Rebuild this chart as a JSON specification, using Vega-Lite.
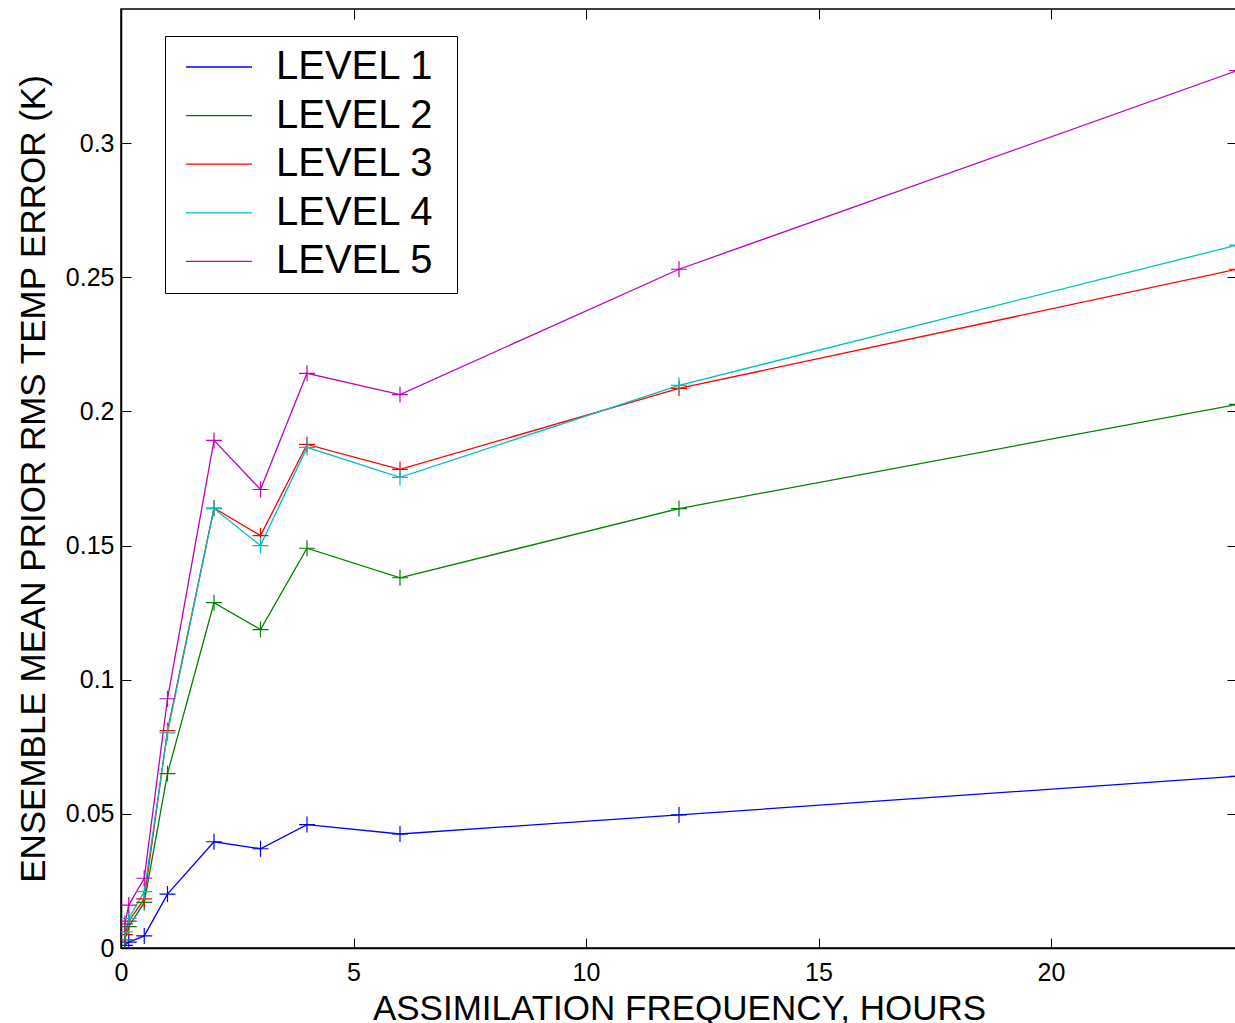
{
  "$schema": "https://vega.github.io/schema/vega-lite/v6.json",
  "width": 1116,
  "height": 939,
  "autosize": {"type": "none"},
  "padding": {"left": 121, "top": 9, "right": 0, "bottom": 75},
  "background": "white",
  "config": {
    "font": "Liberation Sans",
    "view": {"stroke": "black", "strokeWidth": 1.5},
    "axis": {
      "labelFont": "Liberation Sans",
      "titleFont": "Liberation Sans",
      "labelColor": "black",
      "titleColor": "black",
      "titleFontWeight": "normal",
      "grid": false,
      "domainColor": "black",
      "domainWidth": 1.5,
      "tickColor": "black",
      "tickWidth": 1
    }
  },
  "resolve": {"scale": {"x": "independent", "y": "independent"}},
  "data": {
    "values": [
      {"level": "LEVEL 1", "hours": 0.0833, "err": 0.001},
      {"level": "LEVEL 1", "hours": 0.1667, "err": 0.0022},
      {"level": "LEVEL 1", "hours": 0.5, "err": 0.0045},
      {"level": "LEVEL 1", "hours": 1, "err": 0.0201},
      {"level": "LEVEL 1", "hours": 2, "err": 0.0396},
      {"level": "LEVEL 1", "hours": 3, "err": 0.037},
      {"level": "LEVEL 1", "hours": 4, "err": 0.046},
      {"level": "LEVEL 1", "hours": 6, "err": 0.0425},
      {"level": "LEVEL 1", "hours": 12, "err": 0.0496},
      {"level": "LEVEL 1", "hours": 24, "err": 0.064},
      {"level": "LEVEL 2", "hours": 0.0833, "err": 0.003},
      {"level": "LEVEL 2", "hours": 0.1667, "err": 0.008},
      {"level": "LEVEL 2", "hours": 0.5, "err": 0.017},
      {"level": "LEVEL 2", "hours": 1, "err": 0.065},
      {"level": "LEVEL 2", "hours": 2, "err": 0.1287},
      {"level": "LEVEL 2", "hours": 3, "err": 0.1187},
      {"level": "LEVEL 2", "hours": 4, "err": 0.149},
      {"level": "LEVEL 2", "hours": 6, "err": 0.138},
      {"level": "LEVEL 2", "hours": 12, "err": 0.1638},
      {"level": "LEVEL 2", "hours": 24, "err": 0.2026},
      {"level": "LEVEL 3", "hours": 0.0833, "err": 0.005},
      {"level": "LEVEL 3", "hours": 0.1667, "err": 0.01},
      {"level": "LEVEL 3", "hours": 0.5, "err": 0.0183},
      {"level": "LEVEL 3", "hours": 1, "err": 0.081},
      {"level": "LEVEL 3", "hours": 2, "err": 0.164},
      {"level": "LEVEL 3", "hours": 3, "err": 0.1537},
      {"level": "LEVEL 3", "hours": 4, "err": 0.1877},
      {"level": "LEVEL 3", "hours": 6, "err": 0.1784},
      {"level": "LEVEL 3", "hours": 12, "err": 0.2086},
      {"level": "LEVEL 3", "hours": 24, "err": 0.253},
      {"level": "LEVEL 4", "hours": 0.0833, "err": 0.006},
      {"level": "LEVEL 4", "hours": 0.1667, "err": 0.011},
      {"level": "LEVEL 4", "hours": 0.5, "err": 0.021},
      {"level": "LEVEL 4", "hours": 1, "err": 0.0802},
      {"level": "LEVEL 4", "hours": 2, "err": 0.1638},
      {"level": "LEVEL 4", "hours": 3, "err": 0.15},
      {"level": "LEVEL 4", "hours": 4, "err": 0.1866},
      {"level": "LEVEL 4", "hours": 6, "err": 0.1754},
      {"level": "LEVEL 4", "hours": 12, "err": 0.2097},
      {"level": "LEVEL 4", "hours": 24, "err": 0.262},
      {"level": "LEVEL 5", "hours": 0.0833, "err": 0.009},
      {"level": "LEVEL 5", "hours": 0.1667, "err": 0.016},
      {"level": "LEVEL 5", "hours": 0.5, "err": 0.026},
      {"level": "LEVEL 5", "hours": 1, "err": 0.0929},
      {"level": "LEVEL 5", "hours": 2, "err": 0.1892},
      {"level": "LEVEL 5", "hours": 3, "err": 0.1709},
      {"level": "LEVEL 5", "hours": 4, "err": 0.2142},
      {"level": "LEVEL 5", "hours": 6, "err": 0.2063},
      {"level": "LEVEL 5", "hours": 12, "err": 0.253},
      {"level": "LEVEL 5", "hours": 24, "err": 0.327}
    ]
  },
  "layer": [
    {
      "mark": {
        "type": "line",
        "strokeWidth": 1.3,
        "clip": true,
        "point": {
          "shape": "M-1,0H1M0,-1V1",
          "size": 256,
          "filled": false,
          "strokeWidth": 1.2,
          "opacity": 1
        }
      },
      "encoding": {
        "x": {
          "field": "hours", "type": "quantitative",
          "scale": {"domain": [0, 24], "nice": false, "zero": false},
          "axis": {
            "orient": "bottom",
            "title": "ASSIMILATION FREQUENCY, HOURS",
            "titleFontSize": 35,
            "titlePadding": 6,
            "labelFontSize": 25,
            "values": [0, 5, 10, 15, 20],
            "format": "~g",
            "tickSize": -10,
            "labelPadding": 22,
            "labelFlush": false
          }
        },
        "y": {
          "field": "err", "type": "quantitative",
          "scale": {"domain": [0, 0.35], "nice": false},
          "axis": {
            "orient": "left",
            "title": "ENSEMBLE MEAN PRIOR RMS TEMP ERROR (K)",
            "titleFontSize": 35,
            "titlePadding": 14,
            "labelFontSize": 25,
            "values": [0, 0.05, 0.1, 0.15, 0.2, 0.25, 0.3],
            "format": "~g",
            "tickSize": -10,
            "labelPadding": 17,
            "labelFlush": false
          }
        },
        "color": {
          "field": "level", "type": "nominal",
          "scale": {
            "domain": ["LEVEL 1", "LEVEL 2", "LEVEL 3", "LEVEL 4", "LEVEL 5"],
            "range": ["#0000ff", "#008000", "#ff0000", "#00bfbf", "#bf00bf"]
          },
          "legend": {
            "title": ".",
            "titleOrient": "right",
            "titleColor": "white",
            "titleFontSize": 20,
            "titlePadding": 6,
            "orient": "none",
            "legendX": 44,
            "legendY": 27,
            "symbolType": "M-2,0H2",
            "symbolSize": 1089,
            "symbolOffset": 23,
            "symbolStrokeWidth": 1.3,
            "symbolFillColor": "transparent",
            "labelFont": "Liberation Sans",
            "labelFontSize": 40,
            "labelColor": "black",
            "labelOffset": 37,
            "rowPadding": 8.6,
            "padding": 11,
            "strokeColor": "black",
            "fillColor": "white",
            "cornerRadius": 0
          }
        }
      }
    },
    {
      "mark": {"type": "rule", "opacity": 0},
      "encoding": {
        "x": {
          "field": "hours", "type": "quantitative",
          "scale": {"domain": [0, 24], "nice": false, "zero": false},
          "axis": {
            "orient": "top", "title": null, "labels": false,
            "values": [0, 5, 10, 15, 20], "tickSize": -10, "domain": false
          }
        },
        "y": {
          "field": "err", "type": "quantitative",
          "scale": {"domain": [0, 0.35], "nice": false},
          "axis": {
            "orient": "right", "title": null, "labels": false,
            "values": [0, 0.05, 0.1, 0.15, 0.2, 0.25, 0.3], "tickSize": -10, "domain": false
          }
        }
      }
    }
  ]
}
